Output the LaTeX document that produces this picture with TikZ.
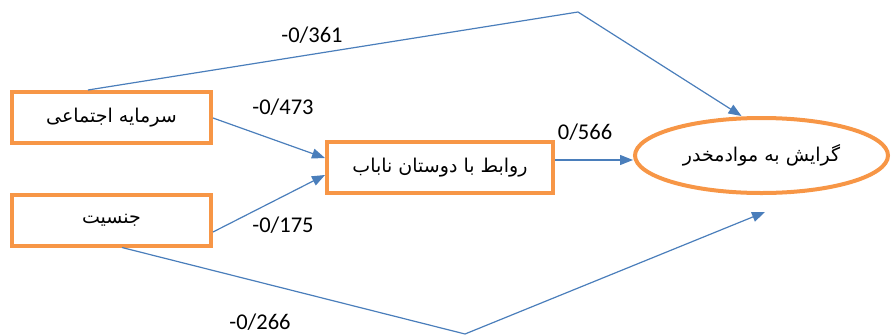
\documentclass[tikz,border=0pt]{standalone}
\usepackage{fontspec}
\usepackage{tikz}
\usetikzlibrary{arrows.meta, shapes.geometric, positioning, calc}
\setmainfont{Carlito}
\newfontfamily\farsifont[Script=Arabic]{DejaVu Sans}
\TeXXeTstate=1
\definecolor{o1}{RGB}{247, 150, 70}
\definecolor{b1}{RGB}{74, 126, 187}

\begin{document}
\begin{tikzpicture}[x=1pt, y=-1pt,
	box/.style={draw=o1, line width=4pt, minimum height=51pt, inner sep=0pt, font=\farsifont\fontsize{19}{22}\selectfont},
	link/.style={draw=b1, line width=1.2pt, -{Triangle[length=13pt, width=10pt]}},
	coef/.style={font=\fontsize{22.5}{24}\selectfont}]
	\useasboundingbox (0, 0) rectangle (891, 335);
	
	\node[box, minimum width=199pt] (sar) at (111.5, 117.5) {\beginR سرمایه اجتماعی\endR};
	\node[box, minimum width=199pt] (jen) at (111.5, 220) {\beginR جنسیت\endR};
	\node[box, minimum width=226pt] (rav) at (440, 167.5) {\beginR روابط با دوستان ناباب\endR};
	\node[box, shape=ellipse, minimum width=253pt, minimum height=75pt] (ell) at (761.5, 155.5) {\beginR گرایش به موادمخدر\endR};
	
	\coordinate (top) at (578, 12);
	\coordinate (bot) at (465, 334);
	\coordinate (botend) at (765, 212);
	
	\draw[link] ([yshift=-0.5pt]sar.east) -- ([yshift=9.5pt]rav.west);
	\draw[link] ([yshift=-12pt]jen.east) -- ([yshift=-7.5pt]rav.west);
	\draw[link] ([yshift=7.5pt]rav.east) -- ([yshift=-4.5pt]ell.west);
	\draw[link] ([xshift=-23.5pt]sar.north) -- (top) -- ([xshift=-20pt]ell.north);
	\draw[link] ([xshift=10.5pt]jen.south) -- (bot) -- (botend);
	
	\node[coef] (c361) at (312, 35) {-0/361};
	\node[coef] (c473) at (283, 107) {-0/473};
	\node[coef] (c175) at (283, 225) {-0/175};
	\node[coef] (c566) at (585, 132) {0/566};
	\node[coef] (c266) at (260, 322) {-0/266};
\end{tikzpicture}
\end{document}
